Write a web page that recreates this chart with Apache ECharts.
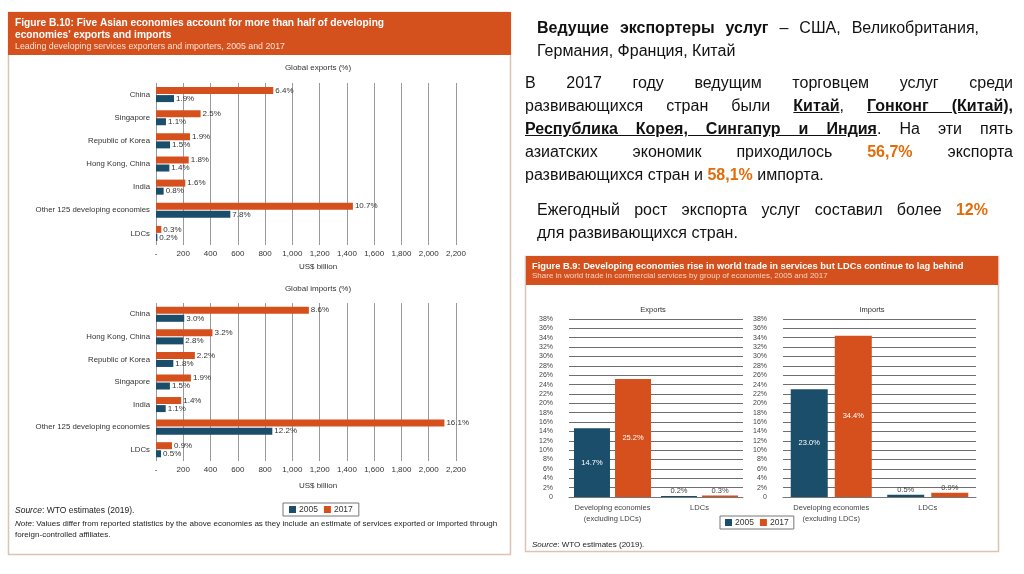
<!DOCTYPE html>
<html>
<head>
<meta charset="utf-8">
<script src="https://cdn.jsdelivr.net/npm/echarts@6/dist/echarts.min.js"></script>
<style>
  html, body { margin: 0; padding: 0; background: #fff; }
  #wrap { position: relative; width: 1024px; height: 574px; overflow: hidden; }
  #chart { position: absolute; left: 0; top: 0; width: 1024px; height: 574px; }
  .ln { position: absolute; height: 23px; line-height: 23px; font-family: "Liberation Sans", Arial, sans-serif; font-size: 16px; color: #111; white-space: nowrap; }
  .j { text-align: justify; text-align-last: justify; white-space: normal; }
  .b { font-weight: bold; }
  .u { font-weight: bold; text-decoration: underline; }
  .o { font-weight: bold; color: #e36c0a; }
</style>
</head>
<body>
<div id="wrap">
  <div id="chart"></div>
  <div class="ln j" style="left:537px; top:16px; width:442px;"><span class="b">Ведущие экспортеры услуг</span> – США, Великобритания,</div>
  <div class="ln" style="left:537px; top:39px;">Германия, Франция, Китай</div>

  <div class="ln j" style="left:525px; top:71px; width:488px;">В 2017 году ведущим торговцем услуг среди</div>
  <div class="ln j" style="left:525px; top:94px; width:488px;">развивающихся стран были <span class="u">Китай</span>, <span class="u">Гонконг (Китай),</span></div>
  <div class="ln j" style="left:525px; top:117px; width:488px;"><span class="u">Республика Корея, Сингапур и Индия</span>. На эти пять</div>
  <div class="ln j" style="left:525px; top:140px; width:488px;">азиатских экономик приходилось <span class="o">56,7%</span> экспорта</div>
  <div class="ln" style="left:525px; top:163px;">развивающихся стран и <span class="o">58,1%</span> импорта.</div>

  <div class="ln j" style="left:537px; top:198px; width:451px;">Ежегодный рост экспорта услуг составил более <span class="o">12%</span></div>
  <div class="ln" style="left:537px; top:221px;">для развивающихся стран.</div>
</div>
<script>
// ---------- data ----------
const exportCategories = ['China', 'Singapore', 'Republic of Korea', 'Hong Kong, China', 'India', 'Other 125 developing economies', 'LDCs'];
const exports2005 = [132, 73, 103, 98, 56, 545, 10];
const exports2017 = [860, 327, 249, 240, 215, 1444, 39];
const exportShares2005 = ['1.9%', '1.1%', '1.5%', '1.4%', '0.8%', '7.8%', '0.2%'];
const exportShares2017 = ['6.4%', '2.5%', '1.9%', '1.8%', '1.6%', '10.7%', '0.3%'];

const importCategories = ['China', 'Hong Kong, China', 'Republic of Korea', 'Singapore', 'India', 'Other 125 developing economies', 'LDCs'];
const imports2005 = [207, 200, 127, 102, 71, 853, 37];
const imports2017 = [1121, 414, 285, 256, 185, 2115, 117];
const importShares2005 = ['3.0%', '2.8%', '1.8%', '1.5%', '1.1%', '12.2%', '0.5%'];
const importShares2017 = ['8.6%', '3.2%', '2.2%', '1.9%', '1.4%', '16.1%', '0.9%'];

const billionTicks = [0, 200, 400, 600, 800, 1000, 1200, 1400, 1600, 1800, 2000, 2200];

const groupCategories = ['Developing economies\n(excluding LDCs)', 'LDCs'];
const groupExports2005 = [14.7, 0.2];
const groupExports2017 = [25.2, 0.3];
const groupImports2005 = [23.0, 0.5];
const groupImports2017 = [34.4, 0.9];

// ---------- style ----------
const C2005 = '#1b4e6b';
const C2017 = '#d6501d';
const ORANGE_HEAD = '#d4501c';
const FRAME = '#dcc3b5';
const FONT = '"Liberation Sans", Arial, sans-serif';

const chart = echarts.init(document.getElementById('chart'), null, { renderer: 'canvas' });

function billionFmt(v) {
  if (v === 0) return '-';
  return v.toLocaleString('en-US');
}

function hGrid(top, height) {
  return { left: 156, width: 300, top: top, height: height, containLabel: false };
}

function hXAxis(gridIndex) {
  return {
    type: 'value', gridIndex: gridIndex, min: billionTicks[0], max: billionTicks[billionTicks.length - 1], interval: 200,
    axisLine: { show: false }, axisTick: { show: false },
    splitLine: { show: true, lineStyle: { color: '#9a9a9a', width: 1 } },
    axisLabel: { formatter: billionFmt, fontSize: 8, color: '#333', fontFamily: FONT, margin: 5 }
  };
}

function hYAxis(gridIndex, cats) {
  return {
    type: 'category', gridIndex: gridIndex, data: cats, inverse: true,
    axisLine: { show: false }, axisTick: { show: false },
    axisLabel: { fontSize: 7.8, color: '#333', fontFamily: FONT, margin: 6, interval: 0 }
  };
}

function hBar(name, idx, values, labels, color) {
  return {
    type: 'bar', name: name, xAxisIndex: idx, yAxisIndex: idx, data: values,
    barWidth: 7, barGap: '15%', barCategoryGap: '20%',
    itemStyle: { color: color },
    label: {
      show: true, position: 'right', distance: 2, fontSize: 8, color: '#333', fontFamily: FONT,
      formatter: p => labels[p.dataIndex]
    },
    silent: true, animation: false
  };
}

function vGrid(left, width) {
  return { left: left, width: width, top: 319, height: 178 };
}

function vXAxis(gridIndex) {
  return {
    type: 'category', gridIndex: gridIndex, data: groupCategories,
    axisLine: { show: true, lineStyle: { color: '#777' } }, axisTick: { show: false },
    axisLabel: { fontSize: 7.5, color: '#444', fontFamily: FONT, margin: 5, lineHeight: 11, interval: 0, verticalAlign: 'top' }
  };
}

function vYAxis(gridIndex) {
  return {
    type: 'value', gridIndex: gridIndex, min: 0, max: 38, interval: 2,
    axisLine: { show: false }, axisTick: { show: false },
    splitLine: { show: true, lineStyle: { color: '#6f6f6f', width: 1 } },
    axisLabel: { formatter: v => (v === 0 ? '0' : v + '%'), fontSize: 7, color: '#444', fontFamily: FONT, margin: 16 }
  };
}

function vBar(name, idx, values, color, barWidth, gap) {
  return {
    type: 'bar', name: name, xAxisIndex: idx, yAxisIndex: idx,
    data: values.map(v => ({
      value: v,
      label: v > 5
        ? { show: true, position: 'inside', color: '#fff', fontSize: 7.5, fontFamily: FONT }
        : { show: true, position: 'top', distance: 1, color: '#444', fontSize: 7.5, fontFamily: FONT }
    })),
    barWidth: barWidth, barGap: gap,
    itemStyle: { color: color },
    label: { formatter: p => p.value.toFixed(1) + '%' },
    silent: true, animation: false
  };
}

function txt(x, y, text, font, fill, align) {
  return {
    type: 'text', x: x, y: y, silent: true,
    style: { text: text, font: font, fill: fill || '#222', textAlign: align || 'left', textVerticalAlign: 'middle' }
  };
}

const option = {
  animation: false,
  backgroundColor: 'transparent',
  grid: [
    hGrid(83, 162),
    hGrid(303, 158),
    vGrid(569, 174),
    vGrid(783, 193)
  ],
  xAxis: [hXAxis(0), hXAxis(1), vXAxis(2), vXAxis(3)],
  yAxis: [hYAxis(0, exportCategories), hYAxis(1, importCategories), vYAxis(2), vYAxis(3)],
  legend: [
    {
      data: ['2005', '2017'], left: 283, top: 503, orient: 'horizontal',
      icon: 'rect', itemWidth: 7, itemHeight: 7, itemGap: 6, padding: [2, 6],
      borderColor: '#777', borderWidth: 1, selectedMode: false,
      textStyle: { fontSize: 8.5, color: '#333', fontFamily: FONT, padding: [0, 0, 0, -2] }
    },
    {
      data: ['2005', '2017'], left: 720, top: 516, orient: 'horizontal',
      icon: 'rect', itemWidth: 7, itemHeight: 7, itemGap: 6, padding: [2, 5],
      borderColor: '#777', borderWidth: 1, selectedMode: false,
      textStyle: { fontSize: 8.5, color: '#333', fontFamily: FONT, padding: [0, 0, 0, -2] }
    }
  ],
  series: [
    hBar('2017', 0, exports2017, exportShares2017, C2017),
    hBar('2005', 0, exports2005, exportShares2005, C2005),
    hBar('2017', 1, imports2017, importShares2017, C2017),
    hBar('2005', 1, imports2005, importShares2005, C2005),
    vBar('2005', 2, groupExports2005, C2005, 36, '14%'),
    vBar('2017', 2, groupExports2017, C2017, 36, '14%'),
    vBar('2005', 3, groupImports2005, C2005, 37, '19%'),
    vBar('2017', 3, groupImports2017, C2017, 37, '19%')
  ],
  graphic: [
    // left figure frame & header
    { type: 'rect', z: -10, silent: true, shape: { x: 8.5, y: 12.5, width: 502, height: 542 }, style: { fill: '#fff', stroke: FRAME, lineWidth: 1.5 } },
    { type: 'rect', z: -9, silent: true, shape: { x: 8, y: 12, width: 503, height: 43 }, style: { fill: ORANGE_HEAD } },
    txt(15, 23, 'Figure B.10: Five Asian economies account for more than half of developing', 'bold 10.2px ' + FONT, '#fff'),
    txt(15, 35, "economies' exports and imports", 'bold 10.2px ' + FONT, '#fff'),
    txt(15, 47, 'Leading developing services exporters and importers, 2005 and 2017', '8.8px ' + FONT, '#fbe3d8'),
    txt(318, 68, 'Global exports (%)', '8px ' + FONT, '#333', 'center'),
    txt(318, 267, 'US$ billion', '8px ' + FONT, '#333', 'center'),
    txt(318, 289, 'Global imports (%)', '8px ' + FONT, '#333', 'center'),
    txt(318, 486, 'US$ billion', '8px ' + FONT, '#333', 'center'),
    {
      type: 'text', x: 15, y: 511, silent: true,
      style: { text: '{i|Source}: WTO estimates (2019).', font: '8.5px ' + FONT, fill: '#222', textVerticalAlign: 'middle', rich: { i: { fontStyle: 'italic', fontSize: 8.5, fontFamily: FONT } } }
    },
    {
      type: 'text', x: 15, y: 524, silent: true,
      style: { text: '{i|Note}: Values differ from reported statistics by the above economies as they include an estimate of services exported or imported through', font: '8px ' + FONT, fill: '#222', textVerticalAlign: 'middle', rich: { i: { fontStyle: 'italic', fontSize: 8, fontFamily: FONT } } }
    },
    txt(15, 535, 'foreign-controlled affiliates.', '8px ' + FONT, '#222'),

    // right figure frame & header
    { type: 'rect', z: -10, silent: true, shape: { x: 525.5, y: 256.5, width: 473, height: 295 }, style: { fill: '#fff', stroke: FRAME, lineWidth: 1.5 } },
    { type: 'rect', z: -9, silent: true, shape: { x: 526, y: 256, width: 472, height: 29 }, style: { fill: ORANGE_HEAD } },
    txt(532, 266, 'Figure B.9: Developing economies rise in world trade in services but LDCs continue to lag behind', 'bold 9.3px ' + FONT, '#fff'),
    txt(532, 276, 'Share in world trade in commercial services by group of economies, 2005 and 2017', '8px ' + FONT, '#f6d3c4'),
    txt(653, 310, 'Exports', '7.5px ' + FONT, '#333', 'center'),
    txt(872, 310, 'Imports', '7.5px ' + FONT, '#333', 'center'),
    {
      type: 'text', x: 532, y: 545, silent: true,
      style: { text: '{i|Source}: WTO estimates (2019).', font: '8px ' + FONT, fill: '#222', textVerticalAlign: 'middle', rich: { i: { fontStyle: 'italic', fontSize: 8, fontFamily: FONT } } }
    }
  ]
};

chart.setOption(option);
</script>
</body>
</html>
